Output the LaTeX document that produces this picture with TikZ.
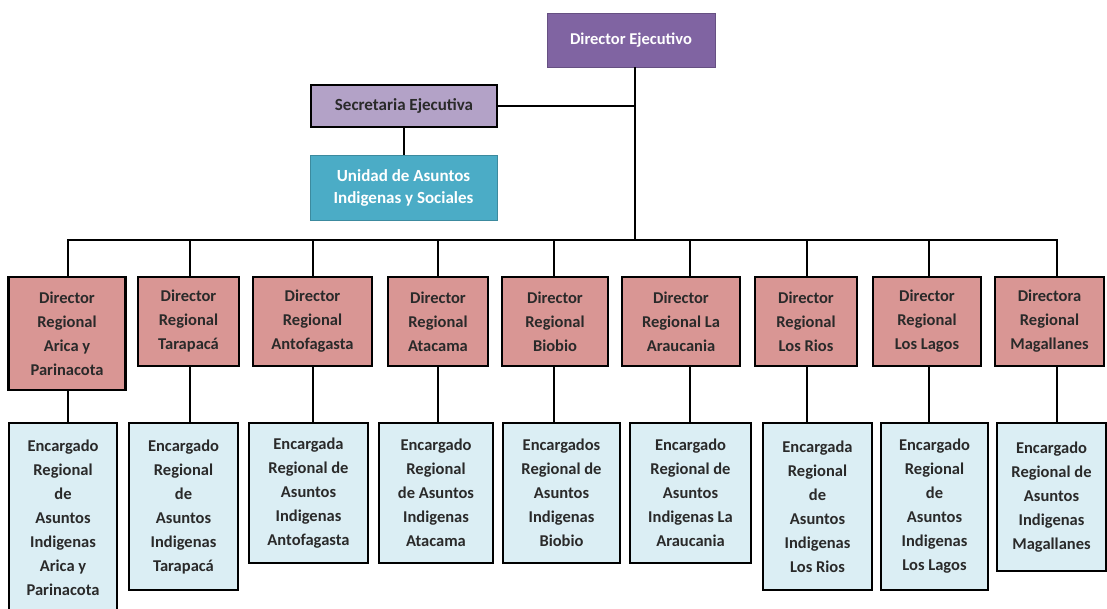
\documentclass[tikz,border=0pt]{standalone}
\usepackage{fontspec}
\setmainfont{Carlito}
\definecolor{dirpurple}{HTML}{8064A2}
\definecolor{seclav}{HTML}{B3A2C7}
\definecolor{unteal}{HTML}{4BACC6}
\definecolor{regpink}{HTML}{D99694}
\definecolor{encblue}{HTML}{DBEEF4}
\definecolor{txt}{HTML}{2A2A2A}
\tikzset{
  basebox/.style={rectangle, inner sep=0pt, align=center, font=\bfseries\fontsize{16.5}{24}\selectfont},
  thickbox/.style={basebox, draw=black, line width=2.8pt, text=txt},
  regbox/.style={thickbox, fill=regpink},
  encbox/.style={thickbox, fill=encblue},
  conn/.style={draw=black, line width=2.8pt},
}
\begin{document}
\begin{tikzpicture}[x=1pt,y=-1pt]
\useasboundingbox (0,0) rectangle (1107,608);
% top level
\node[basebox, fill=dirpurple, draw=dirpurple!80!black, line width=0.6pt, text=white,
      minimum width=168, minimum height=54, font=\bfseries\fontsize{16.5}{20}\selectfont] (de) at (631,40) {Director Ejecutivo};
\node[thickbox, fill=seclav, minimum width=186, minimum height=42, font=\bfseries\fontsize{17}{20}\selectfont] (se) at (404,106) {Secretaria Ejecutiva};
\node[basebox, fill=unteal, draw=unteal!80!black, line width=0.6pt, text=white,
      minimum width=187, minimum height=65, font=\bfseries\fontsize{17}{22}\selectfont] (ua) at (403.5,187.5) {Unidad de Asuntos\\Indigenas y Sociales};
% regional directors
\node[regbox, minimum width=117, minimum height=113] (r1) at (67,333.5) {Director\\Regional\\Arica y\\Parinacota};
\node[regbox, minimum width=101, minimum height=89] (r2) at (188.5,321.5) {Director\\Regional\\Tarapacá};
\node[regbox, minimum width=119, minimum height=89] (r3) at (312.5,321.5) {Director\\Regional\\Antofagasta};
\node[regbox, minimum width=100, minimum height=89] (r4) at (438,321.5) {Director\\Regional\\Atacama};
\node[regbox, minimum width=106, minimum height=89] (r5) at (555,321.5) {Director\\Regional\\Biobio};
\node[regbox, minimum width=118, minimum height=89] (r6) at (681,321.5) {Director\\Regional La\\Araucania};
\node[regbox, minimum width=102, minimum height=89] (r7) at (806,321.5) {Director\\Regional\\Los Rios};
\node[regbox, minimum width=108, minimum height=89] (r8) at (927,321.5) {Director\\Regional\\Los Lagos};
\node[regbox, minimum width=109, minimum height=89] (r9) at (1049.5,321.5) {Directora\\Regional\\Magallanes};
% encargados
\node[encbox, minimum width=108, minimum height=189] (e1) at (63,517.5) {Encargado\\Regional\\de\\Asuntos\\Indigenas\\Arica y\\Parinacota};
\node[encbox, minimum width=109, minimum height=167] (e2) at (183.5,506.5) {Encargado\\Regional\\de\\Asuntos\\Indigenas\\Tarapacá};
\node[encbox, minimum width=119, minimum height=140] (e3) at (308.5,493) {Encargada\\Regional de\\Asuntos\\Indigenas\\Antofagasta};
\node[encbox, minimum width=114, minimum height=140] (e4) at (436,493) {Encargado\\Regional\\de Asuntos\\Indigenas\\Atacama};
\node[encbox, minimum width=117, minimum height=140] (e5) at (561.5,493) {Encargados\\Regional de\\Asuntos\\Indigenas\\Biobio};
\node[encbox, minimum width=121, minimum height=140] (e6) at (690.5,493) {Encargado\\Regional de\\Asuntos\\Indigenas La\\Araucania};
\node[encbox, minimum width=109, minimum height=167] (e7) at (817.5,506.5) {Encargada\\Regional\\de\\Asuntos\\Indigenas\\Los Rios};
\node[encbox, minimum width=107, minimum height=167] (e8) at (934.5,506.5) {Encargado\\Regional\\de\\Asuntos\\Indigenas\\Los Lagos};
\node[encbox, minimum width=109, minimum height=148] (e9) at (1051.5,497) {Encargado\\Regional de\\Asuntos\\Indigenas\\Magallanes};
% bus coordinates
\coordinate (bus) at (635,240);
\coordinate (c1) at (68,240);
\coordinate (c2) at (190,240);
\coordinate (c3) at (313,240);
\coordinate (c4) at (438,240);
\coordinate (c5) at (554,240);
\coordinate (c6) at (690,240);
\coordinate (c7) at (807,240);
\coordinate (c8) at (929,240);
\coordinate (c9) at (1057,240);
% connectors
\draw[conn] (de.south -| bus) -- (bus);
\draw[conn] (se.east) -- (se.east -| bus);
\draw[conn] (se.south) -- (se.south |- ua.north);
\draw[conn, line cap=rect] (c1) -- (c9);
\foreach \i in {1,...,9}{
  \draw[conn] (c\i) -- (c\i |- r\i.north);
  \draw[conn] (c\i |- r\i.south) -- (c\i |- e\i.north);
}
\end{tikzpicture}
\end{document}
